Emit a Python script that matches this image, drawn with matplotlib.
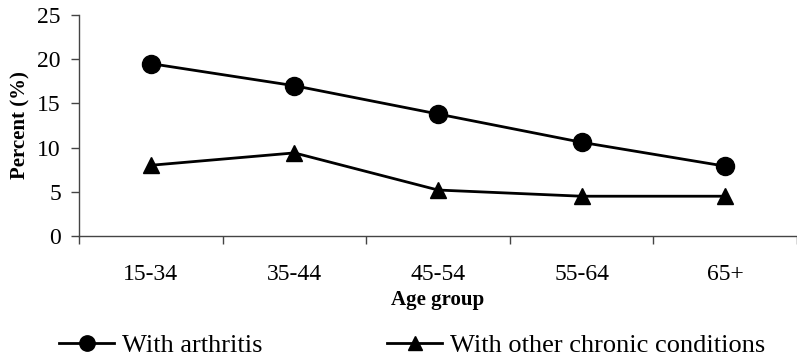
import matplotlib.pyplot as plt
import numpy as np

plt.rcParams.update({"font.family": "serif",
                     "font.serif": ["Liberation Serif", "DejaVu Serif"],
                     "font.size": 17})

age_groups = ['15-34', '35-44', '45-54', '55-64', '65+']
arthritis = [19.5, 17.0, 13.8, 10.6, 7.9]
other_chronic = [8.0, 9.4, 5.2, 4.5, 4.5]

W, H = 797, 362
fig = plt.figure(figsize=(W / 100, H / 100), dpi=100)
ax = fig.add_axes([79 / W, 1 - 236 / H, (797 - 79) / W, (236 - 15) / H])

x = np.arange(len(age_groups))
ax.plot(x, arthritis, c='k', lw=2, marker='o', ms=13, label='With arthritis', clip_on=False)
ax.plot(x, other_chronic, c='k', lw=2, marker='^', ms=12, label='With other chronic conditions', clip_on=False)

ax.set_xlim(-0.5, -0.5 + 718 / 145)
ax.set_ylim(0, 25)
ax.set_yticks(range(0, 26, 5))

# boundary ticks between groups, labels centred on the groups
ax.set_xticks(np.arange(-0.5, len(age_groups), 1.0))
ax.set_xticklabels([])
ax.set_xticks(x, minor=True)
ax.set_xticklabels(age_groups, minor=True)
ax.tick_params(axis='x', which='major', direction='out', length=6, width=1, color='#444444')
ax.tick_params(axis='x', which='minor', length=0, pad=20)
ax.tick_params(axis='y', direction='out', length=6, width=1, color='#444444', pad=7)

for s in ('top', 'right'):
    ax.spines[s].set_visible(False)
for s in ('left', 'bottom'):
    ax.spines[s].set_color('#444444')
    ax.spines[s].set_linewidth(1)

ax.set_ylabel('Percent (%)', fontsize=15, fontweight='bold', labelpad=5)
ax.set_xlabel('Age group', fontsize=15, fontweight='bold', labelpad=4)

fig.legend(loc='center left', bbox_to_anchor=(59 / W, 1 - 345 / H), ncol=2,
           frameon=False, fontsize=19, handlelength=2.1, handletextpad=0.3,
           columnspacing=4.7, borderpad=0, borderaxespad=0, markerscale=0.85)

fig.savefig('out.png', dpi=100)
